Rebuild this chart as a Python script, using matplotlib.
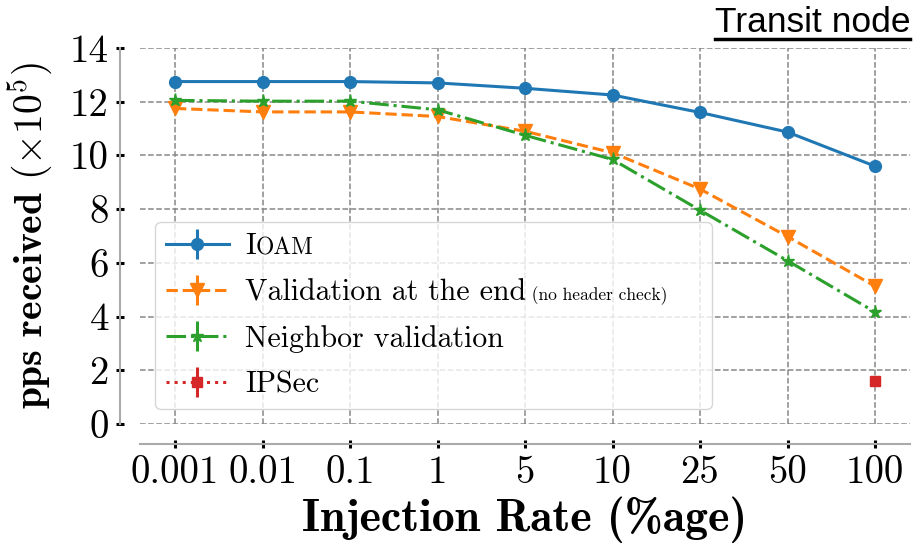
#!/usr/bin/env python3
"""Packets per second received vs injection rate at the transit node."""

import matplotlib

matplotlib.use("Agg")
import matplotlib.pyplot as plt
from matplotlib.lines import Line2D
from matplotlib.offsetbox import HPacker, TextArea

rates = ["0.001", "0.01", "0.1", "1", "5", "10", "25", "50", "100"]
ioam = [12.75, 12.75, 12.75, 12.7, 12.5, 12.25, 11.6, 10.87, 9.6]
val_end = [11.75, 11.62, 11.62, 11.45, 10.9, 10.1, 8.75, 6.98, 5.13]
neighbor = [12.05, 12.02, 12.02, 11.7, 10.75, 9.85, 7.96, 6.08, 4.17]
ipsec_rates = ["100"]
ipsec = [1.6]
zero_err = [0.0] * len(rates)

plt.rcParams["font.family"] = "cmr10"
plt.rcParams["mathtext.fontset"] = "cm"
plt.rcParams["axes.unicode_minus"] = False

fig = plt.figure(figsize=(9.15, 5.45), dpi=100)
ax = fig.add_axes([140 / 915, 121 / 545, 770 / 915, 376 / 545])

x = list(range(len(rates)))
x_ipsec = [rates.index(r) for r in ipsec_rates]

ax.errorbar(x, ioam, yerr=zero_err, color="#1f77b4", marker="o", markersize=8.5,
            linestyle="-", linewidth=2.2, label="I")
ax.errorbar(x, val_end, yerr=zero_err, color="#ff7f0e", marker="v", markersize=9.5,
            linestyle="--", linewidth=2.2, label="Validation at the end")
ax.errorbar(x, neighbor, yerr=zero_err, color="#2ca02c", marker="*", markersize=9.5,
            linestyle="-.", linewidth=2.2, label="Neighbor validation")
ax.errorbar(x_ipsec, ipsec, yerr=[0.0], color="#d62728", marker="s", markersize=7,
            linestyle=":", linewidth=2.2, label="IPSec")

ax.set_xlim(-0.4, 8.4)
ax.set_ylim(0, 14)
ax.set_xticks(x)
ax.set_xticklabels(rates)
ax.set_yticks(range(0, 15, 2))
ax.grid(True, linestyle="--", color="#888888", linewidth=1.1)
ax.set_axisbelow(True)

for side in ("top", "right"):
    ax.spines[side].set_visible(False)
for side in ("left", "bottom"):
    ax.spines[side].set_position(("outward", 14.4))
    ax.spines[side].set_color("#aaaaaa")
    ax.spines[side].set_linewidth(1.5)

ax.tick_params(direction="inout", length=6, width=2.2, color="black",
               labelsize=28, pad=5)

ax.set_xlabel("Injection Rate (%age)", fontfamily="cmb10", fontsize=33, labelpad=4)
ax.set_ylabel(r"pps received $(\times 10^5)$", fontfamily="cmb10", fontsize=28.5,
              labelpad=11)

leg = ax.legend(loc="lower left", bbox_to_anchor=(0.02, 0.04), borderaxespad=0,
                fontsize=21.5, handlelength=2.1, handletextpad=0.55, framealpha=0.8,
                edgecolor="#cccccc", labelspacing=0.62, borderpad=0.35)

# small caps "IOAM" and the smaller note after "Validation at the end"
rows = leg._legend_handle_box.get_children()[0].get_children()
for row, extra, size in [(rows[0], "OAM", 17), (rows[1], " (no header check)      ", 12.5)]:
    kids = row.get_children()
    kids[1] = HPacker(children=[kids[1], TextArea(extra, textprops=dict(fontsize=size))],
                      pad=0, sep=0, align="baseline")
leg._legend_box.set_figure(fig)

title = fig.text(0.995, 1 - 32 / 545, "Transit node", ha="right", va="baseline",
                 fontfamily="Liberation Sans", fontsize=25.5)
fig.canvas.draw()
bb = title.get_window_extent().transformed(fig.transFigure.inverted())
fig.add_artist(Line2D([bb.x0, bb.x1], [1 - 39 / 545] * 2, color="black", linewidth=2.5,
                      transform=fig.transFigure))

fig.savefig("out.png", dpi=100)
